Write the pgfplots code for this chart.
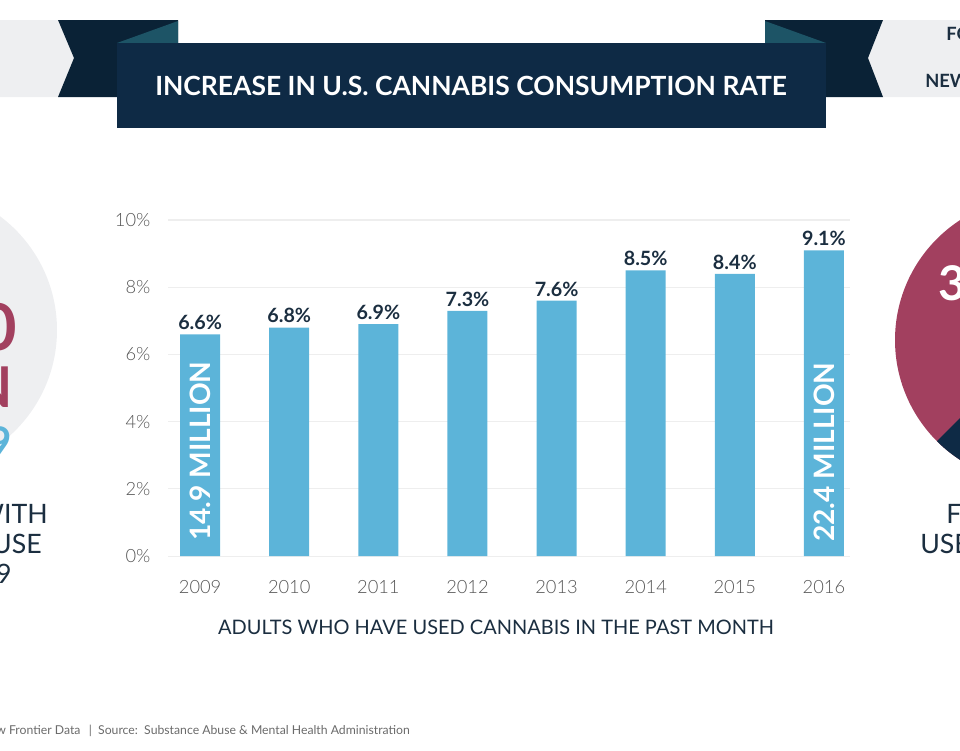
\documentclass[border=0pt]{standalone}
\usepackage{pgfplots}
\pgfplotsset{compat=1.18}
\usepackage{fontspec}
\setmainfont{Lato}
\newfontfamily\lightfont{Lato Light}
\definecolor{navy}{HTML}{0E2A45}
\definecolor{navydark}{HTML}{0A2236}
\definecolor{foldteal}{HTML}{1D5466}
\definecolor{barblue}{HTML}{5CB4D9}
\definecolor{magentab}{HTML}{A2405F}
\definecolor{lightgrayb}{HTML}{EEEFF1}
\definecolor{ticktext}{HTML}{555555}
\definecolor{labelnavy}{HTML}{1B2E40}
\definecolor{srcgray}{HTML}{6A6A6A}
\definecolor{gridgray}{HTML}{EEEEEE}
\begin{document}
\begin{tikzpicture}
\begin{scope}[x=0.025cm,y=-0.025cm]
\path[use as bounding box] (0,0) rectangle (960,750);
\begin{scope}
\clip (0,0) rectangle (960,750);
% left side decorations
\fill[lightgrayb] (-85,330) circle[radius=142];
\fill[lightgrayb] (0,20) -- (58,20) -- (74,58) -- (58,97) -- (0,97) -- cycle;
\fill[navydark] (58,20) -- (178,20) -- (178,97) -- (58,97) -- (74,58) -- cycle;
\fill[foldteal] (117,43) -- (178,21) -- (178,43) -- cycle;
% right side decorations
\fill[lightgrayb] (883,20) -- (960,20) -- (960,97) -- (883,97) -- (868,58) -- cycle;
\fill[navydark] (765,20) -- (883,20) -- (868,58) -- (883,97) -- (765,97) -- cycle;
\fill[foldteal] (765,21) -- (826,43) -- (765,43) -- cycle;
% main banner
\fill[navy] (117,43) rectangle (826,128);
\node[text=white, font=\bfseries\fontsize{18.8}{18.8}\selectfont] at (471,86) {INCREASE IN U.S. CANNABIS CONSUMPTION RATE};
\node[anchor=base west, text=labelnavy, font=\bfseries\fontsize{13}{13}\selectfont, inner sep=0] at (946,40) {FOR};
\node[anchor=base west, text=labelnavy, font=\bfseries\fontsize{13}{13}\selectfont, inner sep=0] at (925,87) {NEW};
% right circle
\fill[magentab] (1038,340) circle[radius=143];
\fill[navy] (1038,340) -- ++(135:143) arc[start angle=135, end angle=60, radius=143] -- cycle;
\node[anchor=base west, text=white, font=\bfseries\fontsize{34}{34}\selectfont, inner sep=0] at (938,300) {3};
% left circle texts
\node[anchor=base east, text=magentab, font=\bfseries\fontsize{46}{46}\selectfont, inner sep=0] at (17,350) {10};
\node[anchor=base east, text=magentab, font=\bfseries\fontsize{40}{40}\selectfont, inner sep=0] at (13,407) {MILLION};
\node[anchor=base east, text=barblue, font=\bfseries\fontsize{30}{30}\selectfont, inner sep=0] at (12,457) {2009};
\node[anchor=base east, text=labelnavy, font=\fontsize{19}{19}\selectfont, inner sep=0] at (48,523) {WITH};
\node[anchor=base east, text=labelnavy, font=\fontsize{19}{19}\selectfont, inner sep=0] at (42,553) {USE};
\node[anchor=base east, text=labelnavy, font=\fontsize{19}{19}\selectfont, inner sep=0] at (12,583) {9};
% right texts
\node[anchor=base west, text=labelnavy, font=\fontsize{19}{19}\selectfont, inner sep=0] at (946,523) {F};
\node[anchor=base west, text=labelnavy, font=\fontsize{19}{19}\selectfont, inner sep=0] at (920,553) {USE};
% x label
\node[text=labelnavy, font=\fontsize{14.2}{14.2}\selectfont] at (496,627) {ADULTS WHO HAVE USED CANNABIS IN THE PAST MONTH};
% source
\node[anchor=base west, text=srcgray, font=\fontsize{8.7}{8.7}\selectfont, inner sep=0] at (-4,734) {w Frontier Data \ \,|\ \ Source:\ \ Substance Abuse \& Mental Health Administration};
\end{scope}
\end{scope}
\begin{axis}[
  at={(4.2cm,-13.9cm)}, anchor=south west,
  scale only axis, width=17.05cm, height=8.4cm,
  xmin=-0.36, xmax=7.295, ymin=0, ymax=10,
  axis line style={draw=none},
  major tick length=0pt,
  ytick={0,2,4,6,8,10},
  yticklabel={\pgfmathprintnumber{\tick}\%},
  yticklabel style={text=ticktext, font=\lightfont\fontsize{13}{13}\selectfont, xshift=-9pt},
  xtick=data,
  xticklabels={2009,2010,2011,2012,2013,2014,2015,2016},
  xticklabel style={text=ticktext, font=\lightfont\fontsize{13}{13}\selectfont, yshift=-13.5pt},
  /pgf/number format/assume math mode=true,
  ymajorgrids, grid style={gridgray, line width=0.8pt},
  clip=false,
]
\addplot[ybar, bar width=1.0cm, fill=barblue, draw=none,
  nodes near coords={\pgfmathprintnumber[fixed,precision=1,fixed zerofill]{\pgfplotspointmeta}\%},
  nodes near coords style={text=labelnavy, font=\bfseries\fontsize{14}{14}\selectfont, anchor=south, inner sep=1pt, yshift=2pt},
] coordinates {(0,6.6) (1,6.8) (2,6.9) (3,7.3) (4,7.6) (5,8.5) (6,8.4) (7,9.1)};
\node[rotate=90, anchor=west, inner sep=0, text=white, font=\bfseries\fontsize{20}{20}\selectfont] at (axis cs:0,0.45) {14.9 MILLION};
\node[rotate=90, anchor=west, inner sep=0, text=white, font=\bfseries\fontsize{20}{20}\selectfont] at (axis cs:7,0.42) {22.4 MILLION};
\end{axis}
\end{tikzpicture}
\end{document}
